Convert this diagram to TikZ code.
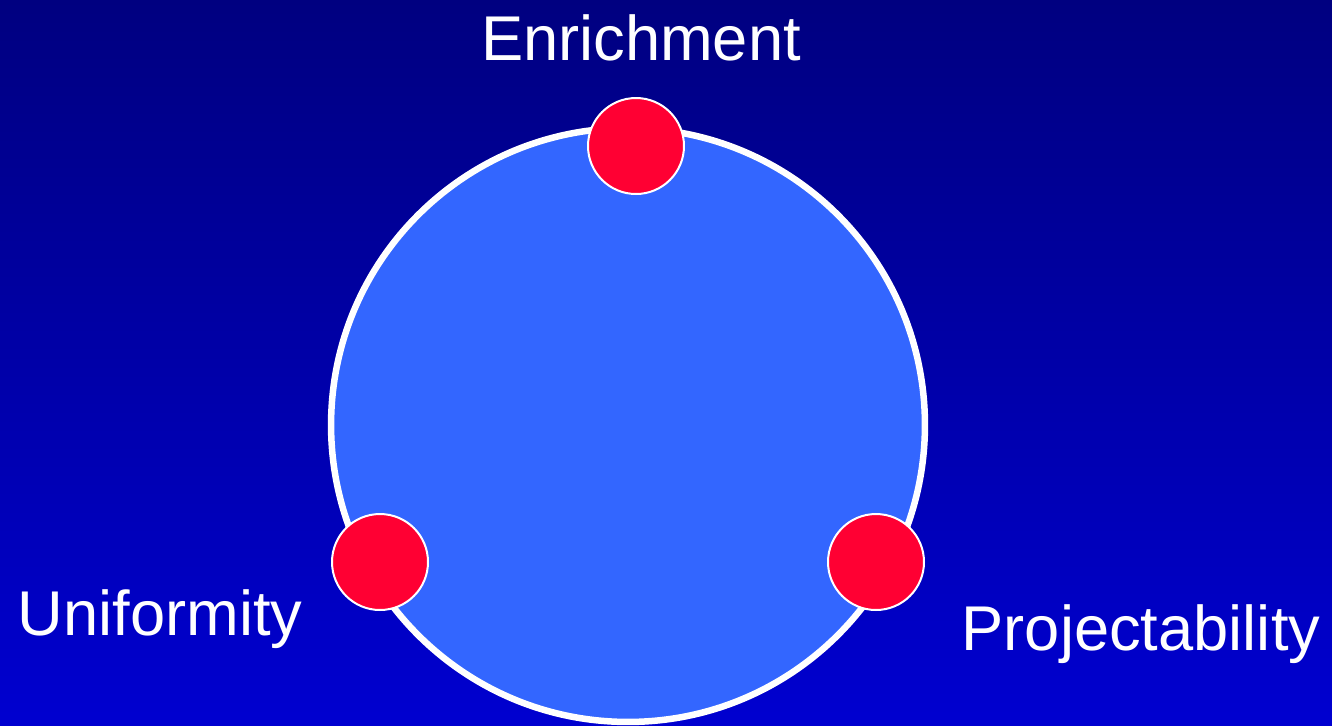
\documentclass[tikz,border=0pt]{standalone}
\usepackage{fontspec}
\setmainfont{Liberation Sans}
\definecolor{navytop}{HTML}{000080}
\definecolor{navybot}{HTML}{0000D0}
\definecolor{discblau}{HTML}{3366FF}
\definecolor{dotrot}{HTML}{FF0033}
\usetikzlibrary{positioning}

\begin{document}
\begin{tikzpicture}[x=0.02cm, y=-0.02cm,
    dot/.style={circle, fill=dotrot, draw=white, line width=0.04cm,
                minimum size=1.92cm, inner sep=0pt},
    lbl/.style={text=white, anchor=base, font=\fontsize{36}{43}\selectfont}]
      % Background
      \shade[top color=navytop, bottom color=navybot] (0,0) rectangle (1332,725);
      \useasboundingbox (0,0) rectangle (1332,725);
      % Disc
      \node[circle, fill=discblau, draw=white, line width=0.13cm,
            minimum size=11.88cm, inner sep=0pt] (disc) at (628,425) {};
      % Dots
      \node[dot] (top) at (636,146) {};
      \node[dot] (left) at (380,562) {};
      \node[dot] (right) at (876,562) {};
      % Labels
      \node[lbl] (enrich) at (641,60) {Enrichment};
      \node[lbl] (unif) at (160,635) {Uniformity};
      \node[lbl] (proj) at (1141,650) {Projectability};
    \end{tikzpicture}
\end{document}
